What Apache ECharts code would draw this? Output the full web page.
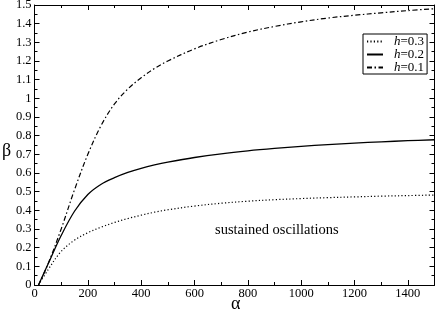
<!DOCTYPE html>
<html><head><meta charset="utf-8">
<script src="https://cdn.jsdelivr.net/npm/echarts@6/dist/echarts.min.js"></script>
<style>html,body{margin:0;padding:0;background:#fff}#c{width:436px;height:313px}</style>
</head><body><div id="c"></div>
<script>
const alpha = [15, 50, 100, 150, 200, 250, 300, 350, 400, 450, 500, 600, 700, 800, 900, 1000, 1100, 1200, 1300, 1400, 1500];
const betaH03 = [0, 0.08, 0.18, 0.24, 0.28, 0.31, 0.335, 0.356, 0.374, 0.39, 0.403, 0.423, 0.438, 0.449, 0.457, 0.463, 0.468, 0.472, 0.476, 0.479, 0.482];
const betaH02 = [0, 0.11, 0.265, 0.395, 0.485, 0.54, 0.575, 0.603, 0.625, 0.643, 0.658, 0.683, 0.703, 0.719, 0.732, 0.743, 0.752, 0.76, 0.767, 0.773, 0.778];
const betaH01 = [0, 0.11, 0.30, 0.51, 0.70, 0.855, 0.97, 1.05, 1.11, 1.16, 1.20, 1.265, 1.315, 1.355, 1.385, 1.41, 1.43, 1.445, 1.458, 1.47, 1.48];
const seriesNames = ['h=0.3', 'h=0.2', 'h=0.1'];
const xTicks = [0, 200, 400, 600, 800, 1000, 1200, 1400];
const yTicks = [0, 0.1, 0.2, 0.3, 0.4, 0.5, 0.6, 0.7, 0.8, 0.9, 1, 1.1, 1.2, 1.3, 1.4, 1.5];
const annotation = 'sustained oscillations';
const xTitle = 'α';
const yTitle = 'β';

const pair = (ys) => alpha.map((a, i) => [a, ys[i]]);
const font = 'Liberation Serif, Times New Roman, serif';
const chart = echarts.init(document.getElementById('c'));
const axisBase = {
  axisLine: {show: true, onZero: false, lineStyle: {color: '#000', width: 1}},
  axisTick: {show: true, inside: true, length: 5, lineStyle: {color: '#000'}},
  minorTick: {show: true, splitNumber: 2, length: 3, lineStyle: {color: '#000'}},
  splitLine: {show: false}
};
chart.setOption({
  animation: false,
  grid: {left: 34.5, right: 1.5, top: 5, bottom: 28, containLabel: false, outerBoundsMode: 'none'},
  xAxis: [
    Object.assign({}, axisBase, {type: 'value', position: 'bottom', min: 0, max: 1500, interval: 200,
      axisLabel: {fontFamily: font, fontSize: 12.5, color: '#000', margin: 2, showMaxLabel: false,
        formatter: v => xTicks.includes(v) ? String(v) : ''}}),
    Object.assign({}, axisBase, {type: 'value', position: 'top', min: 0, max: 1500, interval: 200,
      axisLabel: {show: false}})
  ],
  yAxis: [
    Object.assign({}, axisBase, {type: 'value', position: 'left', min: 0, max: 1.5, interval: 0.1,
      axisLabel: {fontFamily: font, fontSize: 12.5, color: '#000', margin: 3,
        formatter: v => { const t = yTicks.find(k => Math.abs(k - v) < 1e-6); return t === undefined ? '' : String(t); }}}),
    Object.assign({}, axisBase, {type: 'value', position: 'right', min: 0, max: 1.5, interval: 0.1,
      axisLabel: {show: false}})
  ],
  legend: {
    data: seriesNames,
    orient: 'vertical', left: 363, top: 34, width: 62,
    padding: [1, 3, 0, 3], itemGap: 0, itemWidth: 16, itemHeight: 8,
    backgroundColor: '#fff', borderColor: '#000', borderWidth: 1, borderRadius: 0,
    itemStyle: {opacity: 0},
    formatter: n => '{i|h}{n|' + n.slice(1) + '}',
    textStyle: {fontFamily: font, fontSize: 13, lineHeight: 10.5, color: '#000', padding: [0,0,0,6],
      rich: {
        i: {fontFamily: font, fontSize: 13, lineHeight: 10.5, fontStyle: 'italic', color: '#000'},
        n: {fontFamily: font, fontSize: 13, lineHeight: 10.5, color: '#000'}
      }}
  },
  graphic: [
    {type: 'text', left: 215, top: 223, style: {text: annotation, font: '14.5px ' + font, fill: '#000'}},
    {type: 'text', left: 2, top: 142, style: {text: yTitle, font: '18px ' + font, fill: '#000'}},
    {type: 'text', left: 231, top: 295, style: {text: xTitle, font: '18px ' + font, fill: '#000'}}
  ],
  series: [
    {name: seriesNames[0], type: 'line', data: pair(betaH03), symbol: 'none', smooth: 0.35,
      lineStyle: {color: '#000', width: 1.2, type: [1.2, 2.2]}, itemStyle: {color: '#000'}},
    {name: seriesNames[1], type: 'line', data: pair(betaH02), symbol: 'none', smooth: 0.35,
      lineStyle: {color: '#000', width: 1.3, type: 'solid'}, itemStyle: {color: '#000'}},
    {name: seriesNames[2], type: 'line', data: pair(betaH01), symbol: 'none', smooth: 0.35,
      lineStyle: {color: '#000', width: 1.2, type: [5, 2.5, 1.5, 2.5]}, itemStyle: {color: '#000'}}
  ]
});
</script></body></html>
